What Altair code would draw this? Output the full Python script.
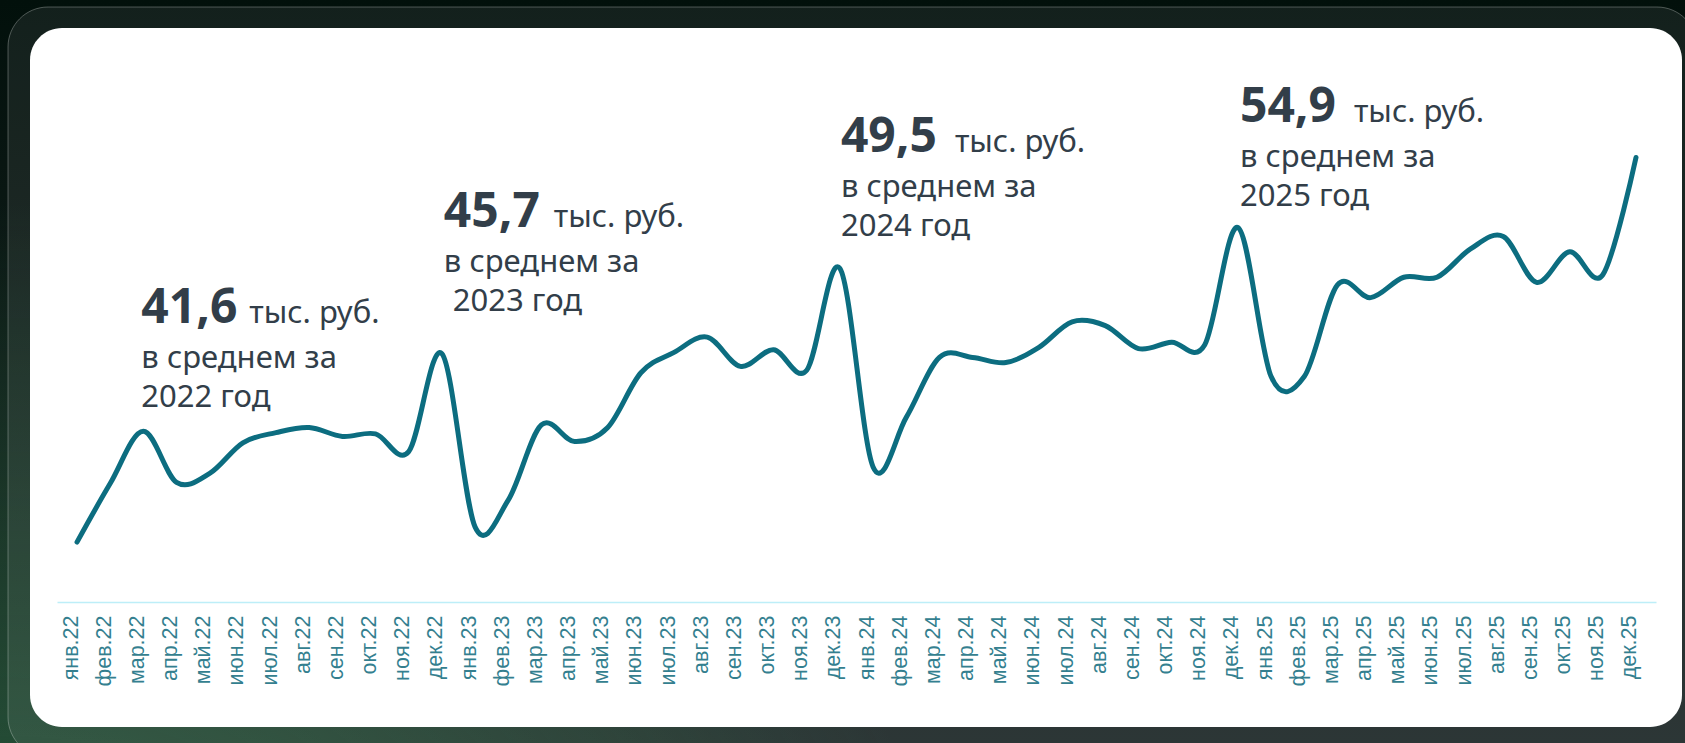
import altair as alt
import pandas as pd

# ---- data ----
month_names = ["янв", "фев", "мар", "апр", "май", "июн", "июл", "авг", "сен", "окт", "ноя", "дек"]
years = ["22", "23", "24", "25"]

v2022 = [34.3, 38.9, 43.0, 39.0, 39.7, 42.1, 42.9, 43.3, 42.6, 42.8, 41.4, 49.1]
v2023 = [35.5, 37.6, 43.5, 42.2, 43.3, 47.6, 49.2, 50.4, 48.1, 49.4, 47.8, 55.8]
v2024 = [40.2, 44.1, 48.8, 48.8, 48.4, 49.6, 51.6, 51.3, 49.5, 50.0, 49.8, 59.0]
v2025 = [47.3, 47.3, 54.5, 53.5, 55.1, 55.1, 57.3, 58.3, 54.7, 57.1, 55.3, 64.5]

avg_values = ["41,6", "45,7", "49,5", "54,9"]
avg_years = ["2022 год", "2023 год", "2024 год", "2025 год"]
anchor_months = ["мар.22", "дек.22", "дек.23", "дек.24"]

months = [f"{m}.{y}" for y in years for m in month_names]
values = v2022 + v2023 + v2024 + v2025
df = pd.DataFrame({"month": months, "value": values})

# ---- layout ----
W, H = 1599, 540
PL, PT = 57, 62
PR = 1685 - PL - W
PB = 743 - PT - H

TEXT_COLOR = "#323e49"
LINE_COLOR = "#0c6d80"

one = pd.DataFrame({"a": [0]})

x_scale = alt.Scale(type="point", padding=0.603, domain=months)
y_scale = alt.Scale(domain=[29.6, 72], zero=False, nice=False)

bg = alt.Chart(one).mark_rect(
    fill={"gradient": "linear", "x1": 0, "y1": 0, "x2": 0, "y2": 1,
          "stops": [{"offset": 0, "color": "#02100b"}, {"offset": 1, "color": "#1d2727"}]}
).encode(x=alt.value(-PL), x2=alt.value(1685 - PL), y=alt.value(-PT), y2=alt.value(743 - PT))

glow = alt.Chart(one).mark_rect(
    fill={"gradient": "radial", "x1": 0, "y1": 1, "r1": 0, "x2": 0, "y2": 1, "r2": 0.6,
          "stops": [{"offset": 0, "color": "rgba(42,110,66,0.95)"},
                    {"offset": 1, "color": "rgba(42,110,66,0)"}]}
).encode(x=alt.value(-PL), x2=alt.value(1685 - PL), y=alt.value(-PT), y2=alt.value(743 - PT))

frame = alt.Chart(one).mark_rect(
    fill="rgba(255,255,255,0.07)", stroke="rgba(255,255,255,0.28)", strokeWidth=1, cornerRadius=40
).encode(x=alt.value(8 - PL), x2=alt.value(1697 - PL), y=alt.value(7 - PT), y2=alt.value(757 - PT))

card = alt.Chart(one).mark_rect(fill="#ffffff", cornerRadius=32).encode(
    x=alt.value(30 - PL), x2=alt.value(1682 - PL), y=alt.value(28 - PT), y2=alt.value(727 - PT)
)

line = alt.Chart(df).mark_line(
    interpolate="cardinal", strokeWidth=5, color=LINE_COLOR, strokeCap="round", strokeJoin="round"
).encode(
    x=alt.X("month:N", sort=months, scale=x_scale,
            axis=alt.Axis(title=None, labelAngle=-90, labelAlign="right", labelBaseline="alphabetic",
                          labelPadding=13, ticks=False, grid=False, domainColor="#bdeef8",
                          domainWidth=1.5, labelColor="#347f8f", labelFont="Liberation Sans",
                          labelFontSize=21.5, labelOverlap=False, zindex=1)),
    y=alt.Y("value:Q", scale=y_scale, axis=None),
)

# annotation baselines (pixels from the plot top) and small horizontal nudges per block
num_y = [323 - PT, 227 - PT, 152 - PT, 122 - PT]
num_dx = [-2, 2, 1, 2]
unit_gap = [108, 110, 114, 114]
year_indent = [0, 9, 0, 0]
layers = [bg, glow, frame, card, line]
for i in range(4):
    ann = pd.DataFrame({"month": [anchor_months[i]], "num": [avg_values[i]], "yr": [avg_years[i]]})
    base = alt.Chart(ann)
    xe = alt.X("month:N", scale=x_scale)
    layers.append(base.mark_text(align="left", baseline="alphabetic", font="Noto Sans", fontWeight="bold",
                                 fontSize=48, color=TEXT_COLOR, dx=num_dx[i]).encode(
        x=xe, y=alt.value(num_y[i]), text="num:N"))
    layers.append(base.mark_text(align="left", baseline="alphabetic", font="Noto Sans",
                                 fontSize=31, color=TEXT_COLOR, dx=num_dx[i] + unit_gap[i]).encode(
        x=xe, y=alt.value(num_y[i]), text=alt.value("тыс. руб.")))
    layers.append(base.mark_text(align="left", baseline="alphabetic", font="Noto Sans",
                                 fontSize=31, color=TEXT_COLOR, dx=num_dx[i]).encode(
        x=xe, y=alt.value(num_y[i] + 45), text=alt.value("в среднем за")))
    layers.append(base.mark_text(align="left", baseline="alphabetic", font="Noto Sans",
                                 fontSize=31, color=TEXT_COLOR, dx=num_dx[i] + year_indent[i]).encode(
        x=xe, y=alt.value(num_y[i] + 84), text="yr:N"))

chart = alt.layer(*layers).properties(
    width=W, height=H,
    autosize=alt.AutoSizeParams(type="none"),
    padding={"left": PL, "top": PT, "right": PR, "bottom": PB},
).configure_view(strokeWidth=0).configure(background="#02100b")

chart.save("out.html", embed_options={"renderer": "svg", "actions": False})
